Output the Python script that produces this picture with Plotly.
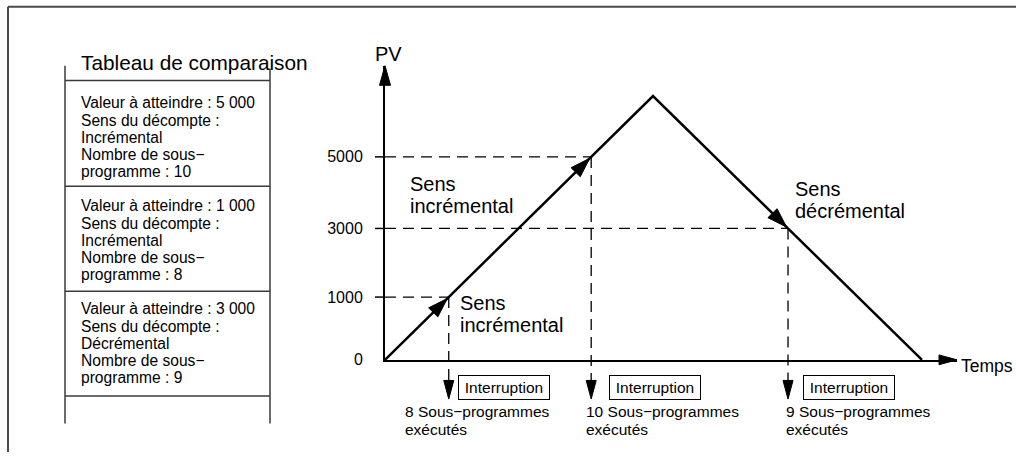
import numpy as np
import plotly.graph_objects as go

# ---- Comparison table entries (in table order) ----
TARGET_PV = [5000, 1000, 3000]
COUNT_DIR = ["Incrémental", "Incrémental", "Décrémental"]
SUBROUTINES = [10, 8, 9]

# ---- PV axis ticks ----
PV_TICKS = [0, 1000, 3000, 5000]

# ---- Counter profile: PV ramps up, then back down over time ----
PROFILE_T = [0, 268, 537]
PROFILE_PV = [0, 6700, 0]

# Schematic (non-linear) PV scale used by the drawing: PV -> drawing level
SCALE_PV = [0, 1000, 3000, 5000, 7000]
SCALE_LEVEL = [0, 64, 134, 207, 280]

W, H = 1016, 461
ORIGIN_X, ORIGIN_Y = 385, 367      # pixel position of the chart origin
T_AXIS_END, L_AXIS_END = 572, 300  # axis arrow tips (time units / levels)

FONT = "Liberation Sans, Arial, Helvetica, sans-serif"
INK = "black"
RULE = "#3a3a3a"


def lvl(pv):
    return np.interp(pv, SCALE_PV, SCALE_LEVEL)


def fx(px):
    return px / W


def fy(py):
    return 1 - py / H


def thousands(v):
    return f"{v:,}".replace(",", " ")


prof_lvl = lvl(PROFILE_PV)
peak_lvl = prof_lvl[1]


def crossing_time(pv, direction):
    level = lvl(pv)
    if direction == "Incrémental":
        return float(np.interp(level, [0, peak_lvl], [PROFILE_T[0], PROFILE_T[1]]))
    return float(np.interp(level, [0, peak_lvl], [PROFILE_T[2], PROFILE_T[1]]))


def head(tip, u, length, width):
    u = np.asarray(u, float)
    u = u / np.hypot(*u)
    n = np.array([-u[1], u[0]])
    tip = np.asarray(tip, float)
    base = tip - length * u
    a = base + n * width / 2
    b = base - n * width / 2
    return [tip[0], a[0], b[0], tip[0]], [tip[1], a[1], b[1], tip[1]]


fig = go.Figure()


def add_poly(xs, ys):
    fig.add_trace(go.Scatter(x=xs, y=ys, mode="lines", fill="toself",
                             fillcolor=INK, line=dict(color=INK, width=1),
                             hoverinfo="skip", showlegend=False))


def add_line(xs, ys, width=1.5, dash="solid", color=INK):
    fig.add_trace(go.Scatter(x=xs, y=ys, mode="lines",
                             line=dict(color=color, width=width, dash=dash),
                             hoverinfo="skip", showlegend=False))


# PV profile
add_line(PROFILE_T, prof_lvl, width=2.5)

# axis arrowheads
add_poly(*head((0, L_AXIS_END), (0, 1), 20, 11))
add_poly(*head((T_AXIS_END, 0), (1, 0), 18, 10))

NOTE_DX = {1000: -46, 5000: -7, 3000: -4}
BOX_DX = {1000: 9, 5000: 18, 3000: 15}

annotations = []


def text(x, y, s, size, xref="x", yref="y", xanchor="left"):
    annotations.append(dict(x=x, y=y, xref=xref, yref=yref, text=s,
                            showarrow=False, xanchor=xanchor, yanchor="middle",
                            font=dict(family=FONT, size=size, color=INK)))


for pv, d, n in zip(TARGET_PV, COUNT_DIR, SUBROUTINES):
    L = float(lvl(pv))
    t = crossing_time(pv, d)
    # tick + horizontal guide
    add_line([-10, 0], [L, L], width=1.5)
    add_line([0, t], [L, L], width=1.3, dash="11px,7px")
    # vertical guide down to the interruption arrow
    add_line([t, t], [L, -21], width=1.3, dash="11px,7px")
    add_poly(*head((t, -40), (0, -1), 19, 10))
    # direction arrowhead on the profile
    u = (PROFILE_T[1], peak_lvl) if d == "Incrémental" else (PROFILE_T[2] - PROFILE_T[1], -peak_lvl)
    u = np.asarray(u, float) / np.hypot(*u)
    tip = np.array([t, L]) - 2 * u
    add_poly(*head(tip, u, 20, 13))
    # interruption box
    annotations.append(dict(x=t + BOX_DX[pv], y=-28, xref="x", yref="y",
                            text="Interruption", showarrow=False,
                            xanchor="left", yanchor="middle",
                            width=86, height=19, borderpad=2,
                            bordercolor=INK, borderwidth=1, bgcolor="white",
                            font=dict(family=FONT, size=15.5, color=INK)))
    text(t + NOTE_DX[pv], -53, f"{n} Sous\u2212programmes", 15.5)
    text(t + NOTE_DX[pv], -71, "exécutés", 15.5)

# chart labels
text(3, 312, "PV", 20, xanchor="center")
text(T_AXIS_END + 2, -6, "Temps", 17.5)
for x0, y0, lines in [(23, 179, ["Sens", "incrémental"]),
                      (73, 58, ["Sens", "incrémental"]),
                      (408, 174, ["Sens", "décrémental"])]:
    for k, s in enumerate(lines):
        text(x0, y0 - 22 * k, s, 20)

# comparison table
shapes = []


def rule(x0, y0, x1, y1, width=1.5, color=RULE):
    shapes.append(dict(type="line", xref="paper", yref="paper",
                       x0=fx(x0), y0=fy(y0), x1=fx(x1), y1=fy(y1),
                       line=dict(color=color, width=width)))


# outer frame
rule(8, 7, W, 7, width=2, color="#4a4a4a")
rule(8, 7, 8, H, width=2, color="#4a4a4a")

TBL_L, TBL_R = 65, 270
rule(TBL_L, 67, TBL_L, 432)
rule(TBL_R, 70, TBL_R, 432)
for yy in [82, 190, 297, 404]:
    rule(TBL_L, yy, TBL_R, yy)

text(fx(79), fy(64), "Tableau de comparaison", 20.8, xref="paper", yref="paper")
for i, (pv, d, n) in enumerate(zip(TARGET_PV, COUNT_DIR, SUBROUTINES)):
    rows = [f"Valeur à atteindre : {thousands(pv)}", "Sens du décompte :", d,
            "Nombre de sous\u2212", f"programme : {n}"]
    for k, s in enumerate(rows):
        text(fx(79), fy(105 + 105 * i + 17.6 * k), s, 15.6, xref="paper", yref="paper")

# placeholder so the overlay axes are drawn
fig.add_trace(go.Scatter(x=[0], y=[0], xaxis="x2", yaxis="y2", mode="markers",
                         marker=dict(opacity=0), hoverinfo="skip", showlegend=False))

fig.update_layout(
    width=W, height=H, margin=dict(l=0, r=0, t=0, b=0),
    paper_bgcolor="white", plot_bgcolor="rgba(0,0,0,0)",
    showlegend=False, hovermode=False,
    font=dict(family=FONT, color=INK),
    xaxis=dict(range=[-ORIGIN_X, W - ORIGIN_X], domain=[0, 1], visible=False),
    yaxis=dict(range=[-(H - ORIGIN_Y), ORIGIN_Y], domain=[0, 1], visible=False),
    xaxis2=dict(domain=[fx(ORIGIN_X), fx(ORIGIN_X + T_AXIS_END)],
                range=[0, T_AXIS_END], anchor="y2",
                showline=True, linecolor=INK, linewidth=2,
                ticks="", showticklabels=False, showgrid=False, zeroline=False),
    yaxis2=dict(domain=[fy(ORIGIN_Y), fy(ORIGIN_Y - L_AXIS_END)],
                range=[0, L_AXIS_END], anchor="x2",
                showline=True, linecolor=INK, linewidth=2,
                tickvals=list(lvl(PV_TICKS)), ticktext=[str(v) for v in PV_TICKS],
                ticks="", ticklabelstandoff=17,
                tickfont=dict(family=FONT, size=16, color=INK),
                showgrid=False, zeroline=False),
    shapes=shapes,
    annotations=annotations,
)

fig.write_html("out.html")
